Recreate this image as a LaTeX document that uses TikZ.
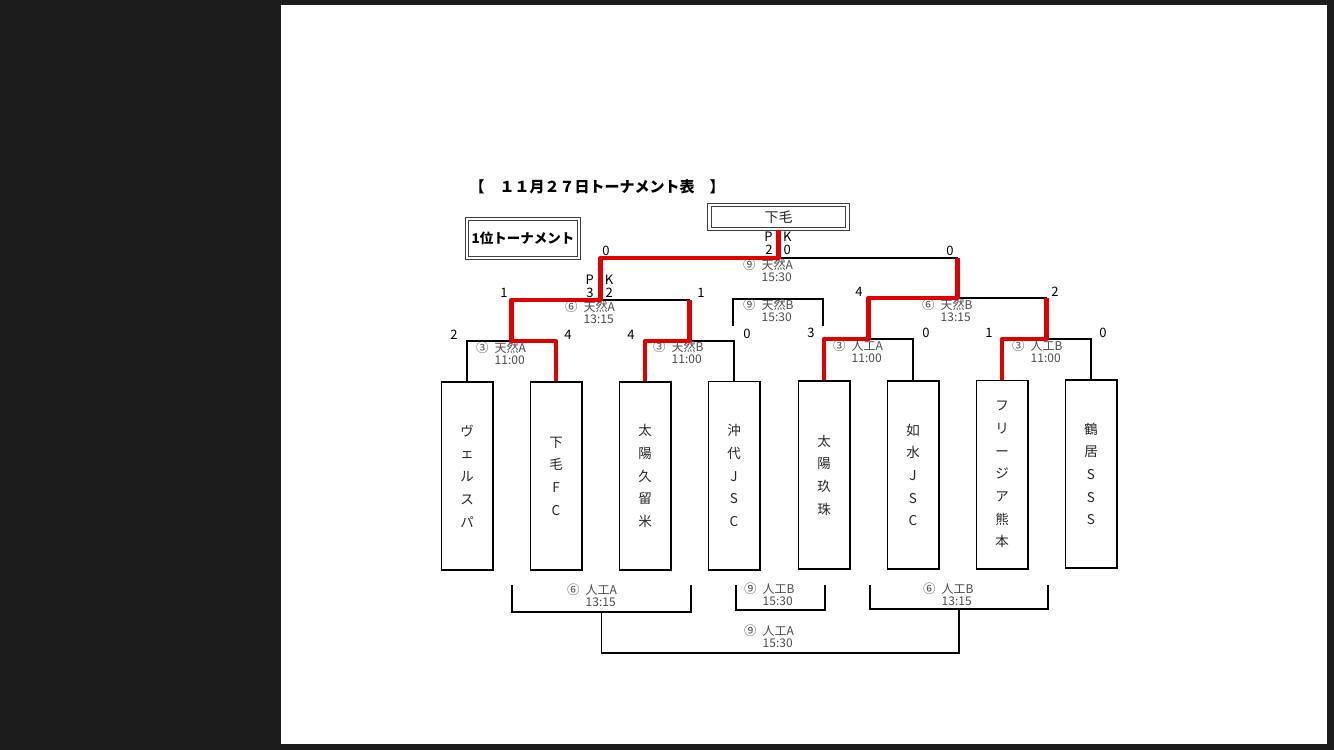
\documentclass[tikz,border=0pt]{standalone}
\usepackage{fontspec}
\setmainfont{Noto Sans CJK JP}
\newcommand\slot[3]{{\fontsize{12.5}{12.5}\selectfont #1}\hspace{6pt}\begin{tabular}[t]{@{}l@{}}#2\\#3\end{tabular}}

\begin{document}
\begin{tikzpicture}[x=1pt,y=-1pt,
    every node/.style = {inner sep=0pt, text=black!85},
    team/.style = {draw=black, line width=1.6pt, minimum width=51.4pt,
      minimum height=188.4pt, align=center,
      font=\fontsize{13.5}{22.7}\selectfont},
    dbox/.style = {draw=black!75, double, double distance=2.2pt,
      line width=1.2pt, align=center},
    bline/.style = {line width=1.8pt, black},
    win/.style = {line width=4.3pt, red!88!black, line join=round},
    lbl/.style = {anchor=base west, text=black!70,
      font=\fontsize{12}{12.8}\selectfont},
    score/.style = {text=black, font=\fontsize{13}{13}\selectfont}]
  % page
  \fill[black!89] (0,0) rectangle (1334,750);
  \fill[white] (281,5) rectangle (1327,744);

  \node[text=black, font=\bfseries\fontsize{15}{15}\selectfont] (title)
    at (597,187) {【　１１月２７日トーナメント表　】};
  \node[dbox, minimum width=112pt, minimum height=39pt, text=black,
    font=\bfseries\fontsize{13.5}{13.5}\selectfont] (rank) at (523,238.5) {1位トーナメント};
  \node[dbox, minimum width=138pt, minimum height=24pt,
    font=\fontsize{14}{14}\selectfont] (champ) at (778.5,217) {下毛};

  \foreach \n/\x/\y/\name in {1/467/476/{ヴ\\ェ\\ル\\ス\\パ}, 2/556/476/{下\\毛\\F\\C},
      3/645/476/{太\\陽\\久\\留\\米}, 4/734/475.5/{沖\\代\\J\\S\\C},
      5/824/475/{太\\陽\\玖\\珠}, 6/913/475/{如\\水\\J\\S\\C},
      7/1002/474.5/{フ\\リ\\ー\\ジ\\ア\\熊\\本}, 8/1091/474/{鶴\\居\\S\\S\\S}}
    \node[team] (t\n) at (\x,\y) {\name};

  \coordinate (j1) at (511.5,341);
  \coordinate (j2) at (689.5,341);
  \coordinate (j3) at (868.5,339);
  \coordinate (j4) at (1046.5,339);
  \coordinate (k1) at (600.5,300);
  \coordinate (k2) at (957.5,298);
  \coordinate (fin) at (778.5,258);
  \draw[bline] (t1.north) |- (j1) -| (t2.north);
  \draw[bline] (t3.north) |- (j2) -| (t4.north);
  \draw[bline] (t5.north) |- (j3) -| (t6.north);
  \draw[bline] (t7.north) |- (j4) -| (t8.north);
  \draw[bline] (j1) |- (k1) -| (j2);
  \draw[bline] (j3) |- (k2) -| (j4);
  \draw[bline] (k1) |- (fin) -| (k2);
  \draw[bline] (fin) -- (champ.south);

  \coordinate (m1) at (733,326);
  \coordinate (m2) at (823,326);
  \coordinate (mt) at (778,299);
  \draw[bline] (m1) |- (mt) -| (m2);

  \coordinate (p1) at (512,585);
  \coordinate (p2) at (691,585);
  \coordinate (pm) at (601.5,612);
  \coordinate (q1) at (736,585);
  \coordinate (q2) at (825,585);
  \coordinate (qm) at (780.5,610);
  \coordinate (r1) at (870,585);
  \coordinate (r2) at (1048,585);
  \coordinate (rm) at (959,609);
  \coordinate (bf) at (780,653);
  \draw[bline] (p1) |- (pm) -| (p2);
  \draw[bline] (q1) |- (qm) -| (q2);
  \draw[bline] (r1) |- (rm) -| (r2);
  \draw[bline] (pm) |- (bf) -| (rm);

  % match labels
  \node[lbl] (g1) at (476,352) {\slot{③}{天然A}{11:00}};
  \node[lbl] (g2) at (653,351) {\slot{③}{天然B}{11:00}};
  \node[lbl] (g3) at (833,350) {\slot{③}{人工A}{11:00}};
  \node[lbl] (g4) at (1012,350) {\slot{③}{人工B}{11:00}};
  \node[lbl] (g5) at (565,311) {\slot{⑥}{天然A}{13:15}};
  \node[lbl] (g6) at (922,309) {\slot{⑥}{天然B}{13:15}};
  \node[lbl] (g7) at (743,309) {\slot{⑨}{天然B}{15:30}};
  \node[lbl] (g8) at (743,269) {\slot{⑨}{天然A}{15:30}};
  \node[lbl] (g9) at (567,594) {\slot{⑥}{人工A}{13:15}};
  \node[lbl] (g10) at (744,593) {\slot{⑨}{人工B}{15:30}};
  \node[lbl] (g11) at (923,593) {\slot{⑥}{人工B}{13:15}};
  \node[lbl] (g12) at (744,635) {\slot{⑨}{人工A}{15:30}};

  % scores
  \node[score] (s1) at (454,335) {2};
  \node[score] (s2) at (568,335) {4};
  \node[score] (s3) at (631,335) {4};
  \node[score] (s4) at (747,334) {0};
  \node[score] (s5) at (811,333) {3};
  \node[score] (s6) at (926,333) {0};
  \node[score] (s7) at (989,333) {1};
  \node[score] (s8) at (1103,333) {0};
  \node[score] (s9) at (504,293) {1};
  \node[score] (s10) at (701,293) {1};
  \node[score] (s11) at (859,292) {4};
  \node[score] (s12) at (1055,292) {2};
  \node[score] (s13) at (606,251) {0};
  \node[score] (s14) at (950,251) {0};
  \node[score] (pk1) at (599.5,280) {P\hspace{11pt}K};
  \node[score] (pk2) at (599.5,293) {3\hspace{12pt}2};
  \node[score] (pk3) at (778,237) {P\hspace{10.5pt}K};
  \node[score] (pk4) at (778,250) {2\hspace{11pt}0};

  % winners
  \draw[win] (t2.north) |- (j1) |- (k1) |- (fin) -- (champ.south);
  \draw[win] (t3.north) |- (j2) -- (j2 |- k1);
  \draw[win] (t5.north) |- (j3) |- (k2) -- (k2 |- fin);
  \draw[win] (t7.north) |- (j4) -- (j4 |- k2);
\end{tikzpicture}
\end{document}
